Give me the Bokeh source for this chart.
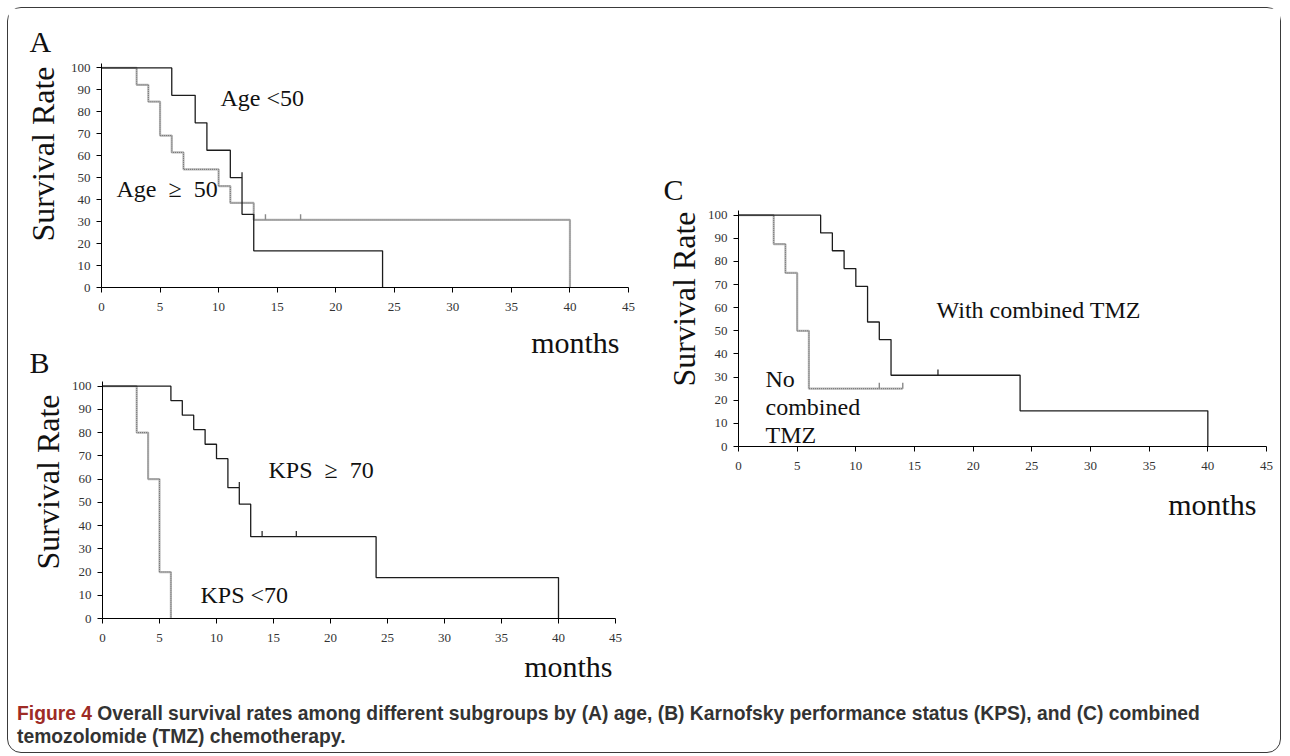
import math
from bokeh.plotting import figure
from bokeh.models import Range1d, FixedTicker, Label, Div, Title
from bokeh.layouts import column, row
from bokeh.embed import file_html
from bokeh.resources import INLINE

# ---------------- data ----------------
x_ticks = [0, 5, 10, 15, 20, 25, 30, 35, 40, 45]
y_ticks = [0, 10, 20, 30, 40, 50, 60, 70, 80, 90, 100]

# Panel A: age
a_young_t = [0, 6, 8, 9, 11, 12, 13, 24]
a_young_s = [100, 87.5, 75, 62.5, 50, 33.3, 16.7, 0]
a_young_cens_t = [12]
a_young_cens_s = [50]
a_old_t = [0, 3, 4, 5, 6, 7, 10, 11, 13, 40]
a_old_s = [100, 92.3, 84.6, 69.2, 61.5, 53.8, 46.2, 38.5, 30.8, 0]
a_old_cens_t = [14, 17]
a_old_cens_s = [30.8, 30.8]

# Panel B: KPS
b_high_t = [0, 6, 7, 8, 9, 10, 11, 12, 13, 24, 40]
b_high_s = [100, 93.8, 87.5, 81.3, 75, 68.8, 56.3, 49.2, 35.2, 17.6, 0]
b_high_cens_t = [12, 14, 17]
b_high_cens_s = [56.3, 35.2, 35.2]
b_low_t = [0, 3, 4, 5, 6]
b_low_s = [100, 80, 60, 20, 0]

# Panel C: TMZ
c_with_t = [0, 7, 8, 9, 10, 11, 12, 13, 24, 40]
c_with_s = [100, 92.3, 84.6, 76.9, 69.2, 53.8, 46.2, 30.8, 15.4, 0]
c_with_cens_t = [17]
c_with_cens_s = [30.8]
c_no_t = [0, 3, 4, 5, 6, 14]
c_no_s = [100, 87.5, 75, 50, 25, 25]
c_no_cens_t = [12, 14]
c_no_cens_s = [25, 25]

SERIF = "Liberation Serif"
BLACK = "#1c1c1c"


def make_fig(w, h, bl, br, bt, bb):
    p = figure(width=w, height=h, x_range=Range1d(0, 45), y_range=Range1d(0, 102),
               output_backend="svg", toolbar_location=None,
               min_border_left=bl, min_border_right=br,
               min_border_top=bt, min_border_bottom=bb)
    try:
        p.frame_align = False
    except Exception:
        pass
    p.title.visible = False
    p.outline_line_color = None
    p.grid.visible = False
    p.background_fill_color = "white"
    p.border_fill_color = "white"
    p.xaxis.ticker = FixedTicker(ticks=x_ticks)
    p.yaxis.ticker = FixedTicker(ticks=y_ticks)
    for ax in (p.xaxis[0], p.yaxis[0]):
        ax.axis_line_color = "black"
        ax.axis_line_width = 1
        ax.major_tick_line_color = "black"
        ax.major_tick_out = 5
        ax.major_tick_in = 0
        ax.minor_tick_line_color = None
        ax.major_label_text_font = SERIF
        ax.major_label_text_font_size = "13px"
        ax.major_label_text_color = "#333333"
    p.xaxis.major_label_standoff = 10
    p.yaxis.major_label_standoff = 6
    return p


def grey_curve(p, t, s):
    p.step(t, s, mode="after", line_color="#b8b8b8", line_width=2.2)
    p.step(t, s, mode="after", line_color="#727272", line_width=1, line_dash="1 1")


def grey_cens(p, t, s):
    p.segment(x0=t, y0=s, x1=t, y1=[v + 2.5 for v in s], line_color="#8a8a8a", line_width=1.4)


def black_curve(p, t, s):
    p.step(t, s, mode="after", line_color=BLACK, line_width=1.3)


def black_cens(p, t, s):
    p.segment(x0=t, y0=s, x1=t, y1=[v + 2.5 for v in s], line_color=BLACK, line_width=1.2)


def lab(p, x, y, text, size="24px"):
    p.add_layout(Label(x=x, y=y, text=text, text_font=SERIF, text_font_size=size,
                       text_color="#111111", text_align="left",
                       text_baseline="alphabetic"))


def side_text(p, side, text, size, align, offset, standoff):
    p.add_layout(Title(text=text, align=align, offset=offset, standoff=standoff,
                       vertical_align="middle", text_font=SERIF,
                       text_font_size=size, text_font_style="normal",
                       text_color="#111111"), side)


GE = "\u2002\u2265\u2002"

# ---------------- Panel A ----------------
pA = make_fig(640, 314, 93, 20, 55, 35)
grey_curve(pA, a_old_t, a_old_s)
grey_cens(pA, a_old_cens_t, a_old_cens_s)
black_curve(pA, a_young_t, a_young_s)
black_cens(pA, a_young_cens_t, a_young_cens_s)
lab(pA, 10.16, 86.3, "Age <50")
lab(pA, 1.28, 44.9, "Age" + GE + "50")
side_text(pA, "above", "A", "30px", "left", -72, 8.8)
side_text(pA, "left", "Survival Rate", "32px", "left", 46, 12.2)

# ---------------- Panel B ----------------
pB = make_fig(640, 370, 94, 33, 59, 74)
grey_curve(pB, b_low_t, b_low_s)
black_curve(pB, b_high_t, b_high_s)
black_cens(pB, b_high_cens_t, b_high_cens_s)
lab(pB, 14.56, 63.9, "KPS" + GE + "70")
lab(pB, 8.6, 10.1, "KPS <70")
side_text(pB, "above", "B", "30px", "left", -73, 2.8)
side_text(pB, "above", "months", "30px", "right", -4, -33.2)   # x label of panel A
side_text(pB, "left", "Survival Rate", "32px", "left", 49, 4.2)
side_text(pB, "below", "months", "30px", "right", 3, 8)

# ---------------- Panel C ----------------
pC = make_fig(632, 684, 90, 14, 202, 246)
grey_curve(pC, c_no_t, c_no_s)
grey_cens(pC, c_no_cens_t, c_no_cens_s)
black_curve(pC, c_with_t, c_with_s)
black_cens(pC, c_with_cens_t, c_with_cens_s)
lab(pC, 16.88, 59.0, "With combined TMZ")
lab(pC, 2.3, 29.2, "No")
lab(pC, 2.3, 17.1, "combined")
lab(pC, 2.3, 5.0, "TMZ")
side_text(pC, "above", "C", "30px", "left", -75, 6.8)
side_text(pC, "left", "Survival Rate", "32px", "left", 60, 4.2)
side_text(pC, "below", "months", "30px", "right", 10, 28)

caption_html = (
    '<div style="font-family:\'Liberation Sans\',sans-serif;'
    'font-weight:bold;font-size:19.3px;line-height:23px;color:#333333;'
    'padding-left:9px;padding-top:9.5px;white-space:nowrap;">'
    '<span style="color:#9e2b25">Figure 4</span> Overall survival rates among different '
    'subgroups by (A) age, (B) Karnofsky performance status (KPS), and (C) combined<br>'
    'temozolomide (TMZ) chemotherapy.</div>'
)
cap = Div(text=caption_html, width=1272, height=60, margin=0)

layout = column(row(column(pA, pB), pC), cap, margin=(7, 0, 0, 7),
                styles={"border": "1px solid #3a3a3a", "border-radius": "14px",
                        "background": "white"})

open("out.html", "w").write(file_html(layout, INLINE))
